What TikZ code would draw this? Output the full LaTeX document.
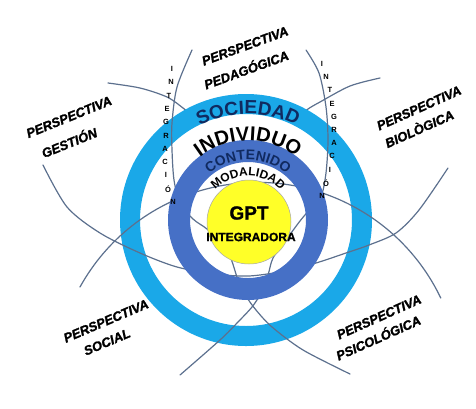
\documentclass[tikz,border=0pt]{standalone}
\usepackage{fontspec}
\usepackage{graphicx}
\setmainfont{Liberation Sans}
\newfontfamily\fpersp[FakeBold=1.6]{Liberation Sans Bold Italic}
\newfontfamily\fgrueso[FakeBold=1.2]{Liberation Sans Bold}
\usetikzlibrary{decorations.text}

\definecolor{cielo}{RGB}{26,168,232}
\definecolor{azul}{RGB}{70,112,198}
\definecolor{marino}{RGB}{16,42,96}
\definecolor{amarillo}{RGB}{255,255,40}
\definecolor{trazo}{RGB}{92,112,142}

\newcommand{\fsociedad}{\fontsize{19}{19}\selectfont\bfseries\color{marino}}
\newcommand{\findividuo}{\fontsize{20}{20}\selectfont\bfseries}
\newcommand{\fcontenido}{\fontsize{14}{14}\selectfont\bfseries\color{marino}}
\newcommand{\fmodalidad}{\fontsize{12}{12}\selectfont\bfseries}

\tikzset{
  arco/.style={draw=trazo, line width=1.2pt, line cap=round},
  persp/.style={font=\fpersp\fontsize{13}{13}\selectfont, inner sep=0pt},
  letra/.style={font=\fontsize{7.5}{7.5}\selectfont\bfseries, inner sep=0pt},
  rotulo/.style={decorate, decoration={text along path, text align=center, text={#1}}},
}

\begin{document}
\begin{tikzpicture}[x=1pt,y=-1pt]
\useasboundingbox (0,0) rectangle (476,408);

% lineas que quedan bajo el anillo
\draw[arco] plot[smooth] coordinates {(108,83) (140,88) (167,97) (183,108) (197,120)};
\draw[arco] plot[smooth] coordinates {(380,78) (350,86) (320,102) (308,109) (297,118)};

\fill[cielo, even odd rule] (246,220) circle[radius=126] (246,220) circle[radius=106];

% arcos de las perspectivas
\draw[arco] plot[smooth] coordinates {(192,50) (177,87) (172,123) (172,150) (174,180) (180,203) (193,219) (207,229) (221,243) (231,259) (238,280) (246,296) (256,310) (272,327) (303,350) (350,374)};
\draw[arco] plot[smooth] coordinates {(306,50) (319,73) (326,107) (328,140) (326,173) (321,197) (311,208) (300,221) (286,240) (273,258) (268,275) (261,293) (252,307) (238,322) (220,340) (180,375)};
\draw[arco] (80,287) arc[start angle=-151, end angle=-25.5, radius=203];
\draw[arco] plot[smooth] coordinates {(43,165) (67,207) (100,233) (140,253) (177,267) (215,274) (249,276) (285,271) (316,263) (346,253) (369,245) (396,233) (419,210) (448,168)};

\fill[azul, even odd rule] (248,220) circle[radius=80] (248,220) circle[radius=58];
\filldraw[fill=amarillo, draw=gray!70, line width=0.5pt] (249,222) circle[radius=42];

% textos de los anillos
\path[shift={(248,221)}, rotulo={|\fsociedad|SOCIEDAD}] (-160:107) arc[start angle=-160, end angle=-20, radius=107];
\path[shift={(248,221)}, rotulo={|\findividuo|INDIVIDUO}] (-165:80) arc[start angle=-165, end angle=-15, radius=80];
\path[shift={(248,221)}, rotulo={|\fcontenido|CONTENIDO}] (-170:61) arc[start angle=-170, end angle=-10, radius=61];
\path[shift={(248,221)}, rotulo={|\fmodalidad|MODALIDAD}] (-175:45) arc[start angle=-175, end angle=-5, radius=45];

\node[font=\fgrueso\fontsize{19}{19}\selectfont] (gpt) at (249,213) {GPT};
\node[font=\fgrueso\fontsize{12}{12}\selectfont] (integradora) at (251,237) {INTEGRADORA};

% integracion, letra por letra
\foreach \l/\x/\y [count=\i] in {I/172/69, N/171/82, T/169/96, E/167/109, G/166/122, R/166/136, A/165/149, C/165/162, I/166/175, Ó/168/189, N/173/202}
  \node[letra] (izq\i) at (\x,\y) {\l};
\foreach \l/\x/\y [count=\i] in {I/322/64, N/326/77, T/330/90, E/332/104, G/334/117, R/334/130, A/334/143, C/332/156, I/330/170, Ó/326/183, N/322/196}
  \node[letra] (der\i) at (\x,\y) {\l};

\node[persp] (pedag1) at (245,46) {\rotatebox{20}{PERSPECTIVA}};
\node[persp] (pedag2) at (246,69) {\rotatebox{20}{PEDAGÓGICA}};
\node[persp] (gest1) at (69,117) {\rotatebox{22}{PERSPECTIVA}};
\node[persp] (gest2) at (69,142) {\rotatebox{22}{GESTIÓN}};
\node[persp] (biol1) at (419,108) {\rotatebox{24}{PERSPECTIVA}};
\node[persp] (biol2) at (419,128) {\rotatebox{24}{BIOLÒGICA}};
\node[persp] (soc1) at (106,321) {\rotatebox{23}{PERSPECTIVA}};
\node[persp] (soc2) at (107,342) {\rotatebox{23}{SOCIAL}};
\node[persp] (psic1) at (379,317) {\rotatebox{24}{PERSPECTIVA}};
\node[persp] (psic2) at (378,337) {\rotatebox{24}{PSICOLÓGICA}};
\end{tikzpicture}
\end{document}
